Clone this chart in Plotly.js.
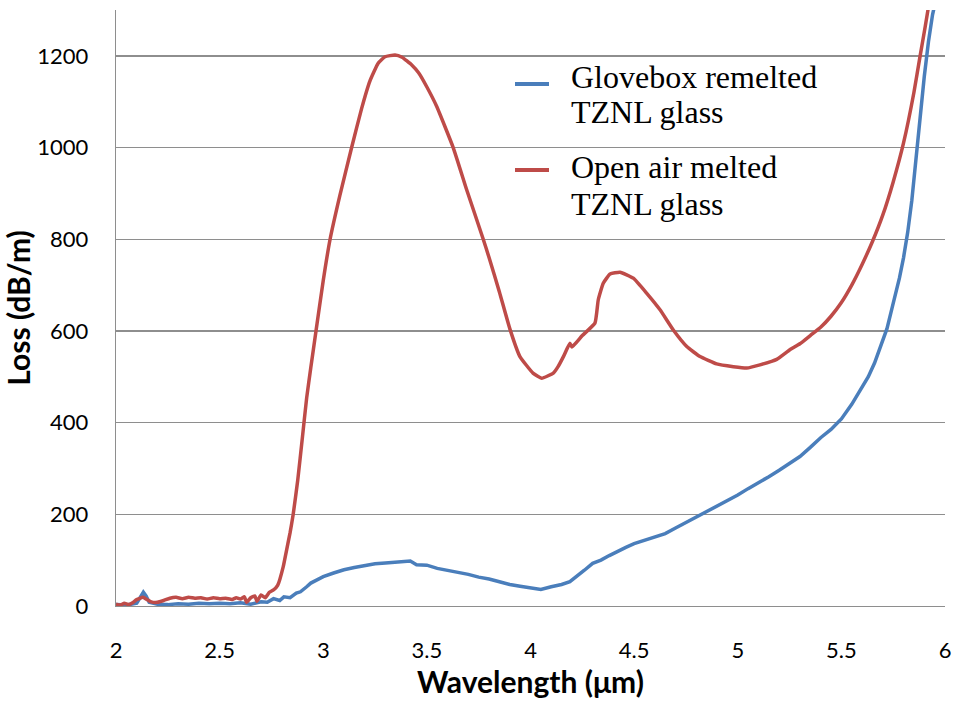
<!DOCTYPE html>
<html>
<head>
<meta charset="utf-8">
<script src="https://cdn.plot.ly/plotly-3.0.1.min.js"></script>
<style>
  html, body { margin: 0; padding: 0; background: #fff; }
  #chart { width: 957px; height: 704px; }
</style>
</head>
<body>
<div id="chart"></div>
<script>
// Loss spectra of TZNL glass fibres
const seriesNames = ['Glovebox remelted TZNL glass', 'Open air melted TZNL glass'];

const gloveboxWavelength = [
  2.00, 2.05, 2.10, 2.12, 2.132, 2.145, 2.16, 2.20, 2.25, 2.30, 2.35, 2.40, 2.45, 2.50,
  2.55, 2.60, 2.65, 2.70, 2.73, 2.76, 2.79, 2.81, 2.84, 2.87, 2.89, 2.92, 2.94, 2.97,
  3.00, 3.05, 3.10, 3.15, 3.20, 3.25, 3.30, 3.35, 3.40, 3.42, 3.45, 3.50, 3.55, 3.60,
  3.65, 3.70, 3.75, 3.80, 3.85, 3.90, 3.95, 4.00, 4.05, 4.10, 4.15, 4.19, 4.22, 4.26,
  4.30, 4.34, 4.38, 4.42, 4.46, 4.50, 4.55, 4.60, 4.65, 4.70, 4.75, 4.80, 4.85, 4.90,
  4.95, 5.00, 5.05, 5.10, 5.15, 5.20, 5.25, 5.30, 5.35, 5.40, 5.45, 5.50, 5.55, 5.60,
  5.63, 5.66, 5.69, 5.72, 5.75, 5.78, 5.80, 5.82, 5.84, 5.86, 5.88, 5.90, 5.92, 5.94, 5.96
];
const gloveboxLoss = [
  3, 2, 6, 22, 30, 22, 8, 4, 3, 5, 4, 6, 5, 6,
  5, 7, 4, 9, 8, 16, 12, 20, 18, 28, 31, 42, 50, 57,
  64, 72, 79, 84, 88, 92, 94, 95, 96, 98, 90, 89, 82, 78,
  74, 69, 63, 59, 53, 47, 43, 40, 36, 42, 47, 53, 63, 78,
  93, 100, 110, 120, 128, 136, 143, 150, 158, 170, 182, 194, 205, 218,
  231, 242, 256, 268, 282, 296, 310, 326, 346, 367, 385, 408, 440, 478,
  500, 530, 566, 605, 660, 715, 760, 815, 885, 980, 1075, 1155, 1230, 1290, 1330
];

const openAirWavelength = [
  2.00, 2.02, 2.04, 2.06, 2.08, 2.10, 2.13, 2.15, 2.17, 2.20, 2.23, 2.26, 2.29, 2.32,
  2.35, 2.38, 2.41, 2.44, 2.47, 2.50, 2.53, 2.56, 2.58, 2.60, 2.62, 2.63, 2.65, 2.67,
  2.68, 2.70, 2.72, 2.74, 2.76, 2.78, 2.807, 2.82, 2.84, 2.855, 2.877, 2.90, 2.92, 2.94,
  2.965, 3.00, 3.033, 3.08, 3.137, 3.185, 3.225, 3.265, 3.298, 3.346, 3.38, 3.427, 3.46,
  3.50, 3.547, 3.627, 3.692, 3.772, 3.80, 3.85, 3.90, 3.949, 4.012, 4.054, 4.11,
  4.133, 4.16, 4.19, 4.20, 4.25, 4.311, 4.327, 4.351, 4.384, 4.432, 4.496, 4.561,
  4.625, 4.689, 4.754, 4.818, 4.898, 4.979, 5.043, 5.107, 5.188, 5.252, 5.30, 5.35,
  5.40, 5.45, 5.50, 5.55, 5.60, 5.65, 5.70, 5.75, 5.80, 5.85, 5.88, 5.905, 5.925, 5.94
];
const openAirLoss = [
  4, 2, 6, 3, 7, 14, 19, 14, 9, 8, 12, 17, 19, 16,
  19, 17, 18, 15, 18, 16, 17, 14, 18, 15, 20, 8, 18, 22,
  10, 24, 18, 30, 35, 45, 86, 115, 160, 200, 275, 370, 454, 520,
  600, 710, 800, 895, 1000, 1085, 1145, 1184, 1198, 1202, 1197, 1180, 1163,
  1132, 1090, 1000, 908, 800, 760, 685, 605, 544, 508, 497, 508,
  522, 545, 573, 565, 590, 617, 668, 704, 724, 728, 715, 682,
  646, 602, 566, 544, 528, 522, 519, 526, 538, 559, 572, 590,
  608, 632, 662, 700, 745, 795, 853, 925, 1010, 1120, 1200, 1265, 1320, 1360
];

const xTickVals = [2, 2.5, 3, 3.5, 4, 4.5, 5, 5.5, 6];
const xTickText = ['2', '2.5', '3', '3.5', '4', '4.5', '5', '5.5', '6'];
const yTickVals = [0, 200, 400, 600, 800, 1000, 1200];

const colors = ['#4A7EBB', '#BE4B48'];

// plot-area geometry (pixels) used to place the key box in paper units
const plotLeft = 116, plotRight = 945, plotTop = 10, plotBottom = 606;
const px = v => (v - plotLeft) / (plotRight - plotLeft);
const py = v => (plotBottom - v) / (plotBottom - plotTop);

const traces = [
  {
    x: gloveboxWavelength, y: gloveboxLoss, name: seriesNames[0],
    type: 'scatter', mode: 'lines',
    line: { color: colors[0], width: 3.5 }
  },
  {
    x: openAirWavelength, y: openAirLoss, name: seriesNames[1],
    type: 'scatter', mode: 'lines',
    line: { color: colors[1], width: 3.5, shape: 'spline', smoothing: 0.4 }
  }
];

const keyFont = { family: '"Liberation Serif", "Times New Roman", serif', size: 32, color: '#000' };
const keyLines = [
  { text: 'Glovebox remelted', cy: 77 },
  { text: 'TZNL glass', cy: 112 },
  { text: 'Open air melted', cy: 167 },
  { text: 'TZNL glass', cy: 204 }
];

const layout = {
  width: 957, height: 704,
  margin: { l: plotLeft, r: 957 - plotRight, t: plotTop, b: 704 - plotBottom },
  paper_bgcolor: '#fff', plot_bgcolor: '#fff',
  showlegend: false,
  font: { family: 'Lato, "Open Sans", sans-serif', color: '#000' },
  xaxis: {
    range: [2, 6], tickvals: xTickVals, ticktext: xTickText,
    showgrid: false, zeroline: false,
    showline: true, linecolor: '#8E8E8E', linewidth: 1.3,
    ticks: '', ticklabelstandoff: 24,
    tickfont: { family: 'Lato, sans-serif', size: 22, color: '#000' },
    title: { text: 'Wavelength (μm)', font: { family: 'Lato, sans-serif', size: 30, color: '#000', weight: 'bold' }, standoff: 6 }
  },
  yaxis: {
    range: [0, 1300], tickvals: yTickVals,
    showgrid: true, gridcolor: '#8E8E8E', gridwidth: 1.3,
    zeroline: false,
    showline: true, linecolor: '#8E8E8E', linewidth: 1.3,
    ticks: '', ticklabelstandoff: 22,
    tickfont: { family: 'Lato, sans-serif', size: 22, color: '#000' },
    title: { text: 'Loss (dB/m)', font: { family: 'Lato, sans-serif', size: 30, color: '#000', weight: 'bold' }, standoff: 0 }
  },
  shapes: [
    {
      type: 'rect', xref: 'paper', yref: 'paper', layer: 'between',
      x0: px(550), x1: px(853), y0: py(228), y1: py(18),
      fillcolor: '#fff', line: { width: 0 }
    },
    {
      type: 'line', xref: 'paper', yref: 'paper',
      x0: px(515), x1: px(549), y0: py(84), y1: py(84),
      line: { color: colors[0], width: 4 }
    },
    {
      type: 'line', xref: 'paper', yref: 'paper',
      x0: px(515), x1: px(549), y0: py(170), y1: py(170),
      line: { color: colors[1], width: 4 }
    }
  ],
  annotations: keyLines.map(k => ({
    text: k.text, xref: 'paper', yref: 'paper',
    x: px(569), y: py(k.cy), xanchor: 'left', yanchor: 'middle',
    showarrow: false, font: keyFont
  }))
};

Plotly.newPlot('chart', traces, layout, { staticPlot: true, displayModeBar: false });
</script>
</body>
</html>
